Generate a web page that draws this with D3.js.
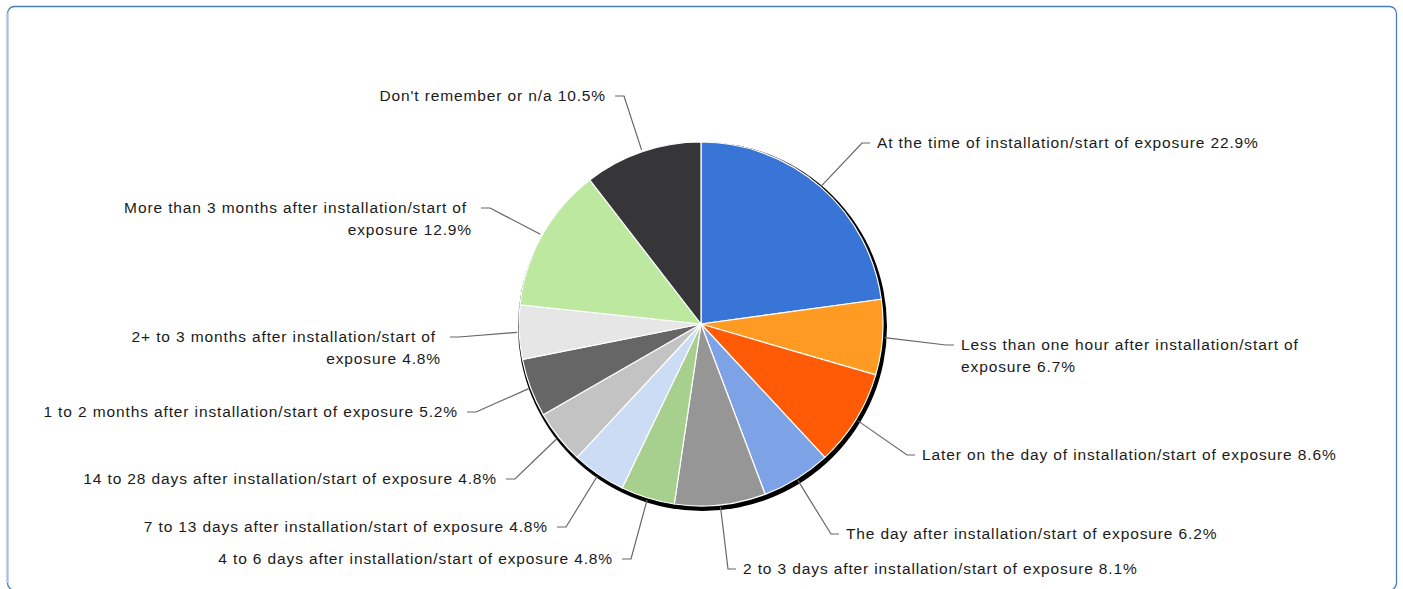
<!DOCTYPE html>
<html><head><meta charset="utf-8">
<script src="https://cdn.jsdelivr.net/npm/d3@7"></script>
<style>body{margin:0;background:#fff;overflow:hidden}</style>
</head><body><svg id="c" width="1403" height="589"></svg>
<script>
const categories = [
  "At the time of installation/start of exposure",
  "Less than one hour after installation/start of exposure",
  "Later on the day of installation/start of exposure",
  "The day after installation/start of exposure",
  "2 to 3 days after installation/start of exposure",
  "4 to 6 days after installation/start of exposure",
  "7 to 13 days after installation/start of exposure",
  "14 to 28 days after installation/start of exposure",
  "1 to 2 months after installation/start of exposure",
  "2+ to 3 months after installation/start of exposure",
  "More than 3 months after installation/start of exposure",
  "Don't remember or n/a"
];
const values = [22.9, 6.7, 8.6, 6.2, 8.1, 4.8, 4.8, 4.8, 5.2, 4.8, 12.9, 10.5];
const colors = ["#3875d7","#ff9a22","#ff5a05","#7da3e6","#969696","#a7d08e",
                "#ccdcf4","#c3c3c3","#666666","#e6e6e6","#bde89f","#363638"];

// label layout (anchor side, text anchor point, whether wrapped)
const labelLayout = [
  {side:"R", x:877, y:143},
  {side:"R", x:961, y:345, wrap:true},
  {side:"R", x:922, y:455},
  {side:"R", x:846, y:534},
  {side:"R", x:743, y:569},
  {side:"L", x:613, y:559},
  {side:"L", x:548, y:527},
  {side:"L", x:497, y:479},
  {side:"L", x:458, y:412},
  {side:"L", x:441, y:337, wrap:true},
  {side:"L", x:472, y:208, wrap:true},
  {side:"L", x:606, y:96}
];

const W = 1403, H = 589;
const cx = 701, cy = 324, R = 182;
const svg = d3.select("#c");

// frame
svg.append("rect").attr("x",7.5).attr("y",6.5).attr("width",1389).attr("height",583.5)
  .attr("rx",7).attr("fill","#fff").attr("stroke","#4a7ebb").attr("stroke-width",1.3);
svg.append("line").attr("x1",7.5).attr("x2",7.5).attr("y1",13).attr("y2",583)
  .attr("stroke","#a9c0df").attr("stroke-width",2);

const data = values.map((v,i)=>({cat:categories[i], value:v, color:colors[i], lay:labelLayout[i]}));
const pie = d3.pie().value(d=>d.value).sort(null).startAngle(0).endAngle(2*Math.PI);
const arcs = pie(data);
const arc = d3.arc().innerRadius(0).outerRadius(R);

const g = svg.append("g").attr("transform",`translate(${cx},${cy})`);
// shadow
g.append("circle").attr("cx",1.5).attr("cy",2.5).attr("r",R+2.5).attr("fill","#000");
g.selectAll("path.slice").data(arcs).join("path").attr("class","slice")
  .attr("d",arc).attr("fill",d=>d.data.color)
  .attr("stroke","#fff").attr("stroke-width",1.2).attr("stroke-linejoin","round");

// leaders and labels
const lab = svg.append("g");
arcs.forEach(a=>{
  const mid = (a.startAngle+a.endAngle)/2;
  const px = cx + (R+2)*Math.sin(mid), py = cy - (R+2)*Math.cos(mid);
  const L = a.data.lay;
  let bend, tick;
  if (L.side==="R") { bend=[L.x-15,L.y]; tick=[L.x-7,L.y]; }
  else { bend=[L.x+18,L.y]; tick=[L.x+9,L.y]; }
  lab.append("path").attr("d",d3.line()([[px,py],bend,tick]))
    .attr("fill","none").attr("stroke","#666").attr("stroke-width",1.2);
  const full = `${a.data.cat} ${a.data.value.toFixed(1)}%`;
  let lines = [full];
  if (L.wrap) {
    const k = full.indexOf("exposure");
    lines = [full.slice(0,k).trim(), full.slice(k)];
  }
  const t = lab.append("text")
    .attr("font-family","'Liberation Sans', Arial, sans-serif")
    .attr("font-size",15.5).attr("letter-spacing","0.88px").attr("fill","#1a1a1a")
    .attr("text-anchor", L.side==="R" ? "start" : "end");
  lines.forEach((s,i)=>{
    t.append("tspan").attr("x", L.side==="L" && L.wrap && i===0 ? L.x-5 : L.x)
      .attr("y", L.y + i*22).attr("dy","0.35em").text(s);
  });
});
</script></body></html>
